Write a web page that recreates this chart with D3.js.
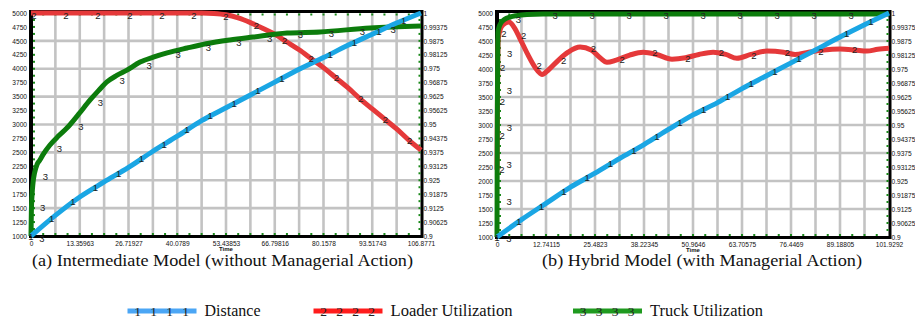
<!DOCTYPE html>
<html><head><meta charset="utf-8">
<script src="https://cdn.jsdelivr.net/npm/d3@7"></script>
<style>
body{margin:0;background:#fff}svg{display:block}
</style>
</head><body><svg id="c" width="915" height="320"></svg>
<script>
// ---------- tick labels ----------
const leftXTickLabels = ["0","13.35963","26.71927","40.0789","53.43853","66.79816","80.1578","93.51743","106.8771"];
const rightXTickLabels = ["0","12.74115","25.4823","38.22345","50.9646","63.70575","76.4469","89.18805","101.9292"];
const distTickLabels = ["1000","1250","1500","1750","2000","2250","2500","2750","3000","3250","3500","3750","4000","4250","4500","4750","5000"];
const utilTickLabels = ["0.9","0.90625","0.9125","0.91875","0.925","0.93125","0.9375","0.94375","0.95","0.95625","0.9625","0.96875","0.975","0.98125","0.9875","0.99375","1"];
const seriesNames = ["Distance","Loader Utilization","Truck Utilization"];
const seriesMarks = ["1","2","3"];
const captions = ["(a) Intermediate Model (without Managerial Action)","(b) Hybrid Model (with Managerial Action)"];

// ---------- (a) intermediate model ----------
const leftDistanceTime = [0,6.68,13.36,20.04,26.72,33.40,40.08,46.76,53.44,60.12,66.80,73.48,80.16,86.84,93.52,100.20,106.88];
const leftDistance     = [1000,1370,1700,1970,2230,2520,2790,3070,3300,3530,3760,3990,4200,4420,4620,4820,5000];
const leftLoaderTime   = [0,10,20,30,40,46.76,50.1,53.44,56.78,60.12,63.46,66.80,70.14,73.48,76.82,80.16,83.50,86.84,90.18,93.52,96.86,100.20,103.54,106.88];
const leftLoader       = [1,1,1,1,1,1,0.9998,0.9992,0.9978,0.9957,0.9932,0.9905,0.9870,0.9835,0.9795,0.9755,0.9710,0.9665,0.9615,0.9570,0.9525,0.9480,0.9430,0.9385];
const leftTruckTime    = [0,0.1,0.27,0.55,1.0,1.64,2.4,3.29,5.2,7.5,9.9,13,16.2,18.5,20.8,23.5,26.3,29.9,33.5,37.3,42.8,48,54.5,60.8,70.2,79.2,92.9,106.88];
const leftTruck        = [0.9,0.911,0.918,0.9238,0.9285,0.932,0.934,0.9365,0.9408,0.9448,0.9485,0.9545,0.961,0.9652,0.9691,0.972,0.9744,0.978,0.9802,0.9821,0.9843,0.9862,0.9879,0.9892,0.991,0.9915,0.9933,0.9942];

// ---------- (b) hybrid model ----------
const rightDistanceTime = [0,6.37,12.74,19.11,25.48,31.85,38.22,44.59,50.96,57.34,63.71,70.08,76.45,82.82,89.19,95.56,101.93];
const rightDistance     = [1000,1310,1600,1890,2140,2400,2650,2920,3180,3400,3650,3880,4110,4340,4570,4790,5000];
const rightLoaderTime   = [0,0.08,0.18,0.3,0.8,1.6,3.1,4.5,6,8,10,11.7,13.5,16,18.5,21.6,24.5,26.8,28.6,31,34.5,38,41.5,45.5,49,52.5,56.2,59.5,62.4,66,70.2,74.5,77.5,81,85,89.2,93,96.2,99,101.93];
const rightLoader       = [0.93,0.95,0.975,0.988,0.9925,0.9948,0.996,0.9935,0.9885,0.9815,0.9755,0.9726,0.9748,0.979,0.9825,0.9848,0.9835,0.98,0.978,0.979,0.9812,0.9825,0.9815,0.9794,0.98,0.9815,0.9825,0.9815,0.9798,0.9815,0.983,0.9825,0.9815,0.9825,0.9835,0.9839,0.9835,0.983,0.9838,0.9843];
const rightTruckTime    = [0,0.04,0.1,0.18,0.26,0.5,1,2,3.4,5,7.8,12,20,101.93];
const rightTruck        = [0.9,0.93,0.96,0.98,0.9915,0.9935,0.9955,0.9972,0.9982,0.9988,0.9993,0.9995,0.9995,0.9995];

// ---------- styles ----------
const SANS = "Liberation Sans";
const SERIF = "Liberation Serif";
const lineColors   = ["#1aa6e4","#e5393a","#0c7c0c"];
const legendColors = ["#4ba6f5","#ff1c1c","#1f9a1f"];
const markerStyle = {
  left:  [{sp:27, dx:0, dy:0}, {sp:32, dx:3, dy:2}, {sp:31, dx:11, dy:2}],
  right: [{sp:27, dx:0, dy:0}, {sp:34, dx:5, dy:0}, {sp:37, dx:12, dy:1}]
};
const captionLayout = [{cx:222.5, w:381}, {cx:702, w:320}];
const legendLayout = [{x:127.5, w:56}, {x:313.5, w:122}, {x:573, w:113}];

const svg = d3.select("#c");
const panels = [
  {key:"left", x0:31, x1:421, y0:13, y1:236, xt:leftXTickLabels,
   series:[[leftDistanceTime,leftDistance],[leftLoaderTime,leftLoader],[leftTruckTime,leftTruck]]},
  {key:"right", x0:497, x1:889, y0:13, y1:237, xt:rightXTickLabels,
   series:[[rightDistanceTime,rightDistance],[rightLoaderTime,rightLoader],[rightTruckTime,rightTruck]]}
];

panels.forEach((p, pi) => {
  const xMax = +p.xt[p.xt.length-1];
  const x = d3.scaleLinear().domain([0, xMax]).range([p.x0, p.x1]);
  const yD = d3.scaleLinear().domain([+distTickLabels[0], +distTickLabels[distTickLabels.length-1]]).range([p.y1, p.y0]);
  const yU = d3.scaleLinear().domain([+utilTickLabels[0], +utilTickLabels[utilTickLabels.length-1]]).range([p.y1, p.y0]);
  const g = svg.append("g");

  // grid
  const grid = g.append("g").attr("stroke","#c3c3c3").attr("stroke-width",2.6);
  d3.range(1,16).forEach(k => {
    const xv = x(xMax*k/16);
    grid.append("line").attr("x1",xv).attr("x2",xv).attr("y1",p.y0).attr("y2",p.y1);
  });
  d3.range(1,8).forEach(k => {
    const yv = yD(+distTickLabels[k*2]);
    grid.append("line").attr("x1",p.x0).attr("x2",p.x1).attr("y1",yv).attr("y2",yv);
  });

  // frame
  const fr = g.append("g").attr("stroke","#000");
  fr.append("line").attr("x1",p.x0-1).attr("x2",p.x1+1).attr("y1",p.y0-1.5).attr("y2",p.y0-1.5).attr("stroke-width",3);
  fr.append("line").attr("x1",p.x0-1).attr("x2",p.x1+1).attr("y1",p.y1+0.5).attr("y2",p.y1+0.5).attr("stroke-width",3);
  fr.append("line").attr("x1",p.x0).attr("x2",p.x0).attr("y1",p.y0-3).attr("y2",p.y1+2).attr("stroke-width",4);
  fr.append("line").attr("x1",p.x1+1).attr("x2",p.x1+1).attr("y1",p.y0-3).attr("y2",p.y1+2).attr("stroke-width",3);

  // small green ticks
  const gt = g.append("g").attr("fill","#1a8a1a");
  d3.range(1,32).forEach(k => {
    const xv = p.x0 + (p.x1-p.x0)*k/32;
    gt.append("rect").attr("x",xv-1).attr("y",p.y1-3).attr("width",2).attr("height",2);
    gt.append("rect").attr("x",xv-1).attr("y",p.y0+0.5).attr("width",2).attr("height",2);
    const yv = p.y0 + (p.y1-p.y0)*k/32;
    gt.append("rect").attr("x",p.x1-2.5).attr("y",yv-1).attr("width",2).attr("height",2);
    gt.append("rect").attr("x",p.x0+2).attr("y",yv-1).attr("width",2).attr("height",2);
  });

  // axes (labels only)
  const axL = d3.axisLeft(yD).tickValues(distTickLabels.map(Number)).tickFormat((d,i)=>distTickLabels[i]).tickSize(0).tickPadding(3);
  const axR = d3.axisRight(yU).tickValues(utilTickLabels.map(Number)).tickFormat((d,i)=>utilTickLabels[i]).tickSize(0).tickPadding(1.5);
  const axB = d3.axisBottom(x).tickValues(p.xt.map(Number)).tickFormat((d,i)=>p.xt[i]).tickSize(0).tickPadding(5);
  [[axL,`translate(${p.x0-1},0)`],[axR,`translate(${p.x1+1},0)`],[axB,`translate(0,${p.y1})`]].forEach(([ax,tr]) => {
    const a = g.append("g").attr("transform",tr).call(ax);
    a.select(".domain").remove();
    a.attr("font-family",SANS).attr("font-size",6.6);
    a.selectAll("text").attr("fill","#111");
  });
  g.append("text").attr("x",x(xMax/2)).attr("y",p.y1+14.5).attr("text-anchor","middle")
    .attr("font-family",SANS).attr("font-size",6).attr("font-weight","bold").attr("fill","#111").text("Time");

  // lines: draw order loader, truck, distance
  const scalesY = [yD, yU, yU];
  const paths = [];
  [1,2,0].forEach(i => {
    const [ts, vs] = p.series[i];
    const pts = ts.map((t,j)=>[x(t), scalesY[i](vs[j])]);
    const path = g.append("path").datum(pts)
      .attr("d", d3.line().curve(d3.curveMonotoneX))
      .attr("fill","none").attr("stroke",lineColors[i]).attr("stroke-width",5)
      .attr("stroke-linejoin","round");
    paths[i] = path.node();
  });
  // markers (skip ones that would collide with an already placed marker)
  const mg = g.append("g").attr("font-family",SANS).attr("font-size",9.5).attr("fill","#222")
    .attr("text-anchor","middle").attr("dominant-baseline","central");
  const placed = [];
  [1,2,0].forEach(i => {
    const st = markerStyle[p.key][i];
    const node = paths[i];
    const L = node.getTotalLength();
    for (let s = 0; s <= L - 4; s += st.sp) {
      const pt = node.getPointAtLength(s);
      const mx = pt.x + st.dx, my = pt.y + st.dy;
      if (mx > p.x1 - 2) continue;
      if (placed.some(q => Math.abs(q[0]-mx) < 6 && Math.abs(q[1]-my) < 8)) continue;
      placed.push([mx, my]);
      mg.append("text").attr("x",mx).attr("y",my).text(seriesMarks[i]);
    }
  });

  // caption
  const cl = captionLayout[pi];
  svg.append("text").attr("x",cl.cx).attr("y",266).attr("text-anchor","middle")
    .attr("font-family",SERIF).attr("font-size",17)
    .attr("textLength",cl.w).attr("lengthAdjust","spacingAndGlyphs")
    .attr("fill","#111").text(captions[pi]);
});

// legend
const lg = svg.append("g");
seriesNames.forEach((name,i) => {
  const lx = legendLayout[i].x;
  lg.append("line").attr("x1",lx).attr("x2",lx+69).attr("y1",311).attr("y2",311)
    .attr("stroke",legendColors[i]).attr("stroke-width",5);
  d3.range(4).forEach(k => {
    lg.append("text").attr("x",lx+10+k*16).attr("y",315.5).attr("text-anchor","middle")
      .attr("font-family",SERIF).attr("font-size",13.5).attr("fill","#222").text(seriesMarks[i]);
  });
  lg.append("text").attr("x",lx+77).attr("y",316).attr("font-family",SERIF).attr("font-size",16.5)
    .attr("textLength",legendLayout[i].w).attr("lengthAdjust","spacingAndGlyphs")
    .attr("fill","#111").text(name);
});
</script>
</body></html>
